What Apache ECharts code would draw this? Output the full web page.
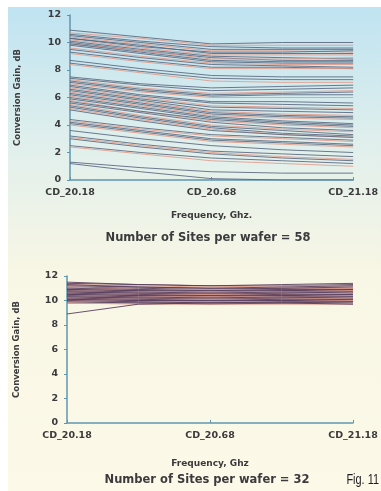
<!DOCTYPE html>
<html>
<head>
<meta charset="utf-8">
<script src="https://cdn.jsdelivr.net/npm/echarts@6/dist/echarts.min.js"></script>
<style>
  html, body { margin: 0; padding: 0; background: #ffffff; }
  #chart { width: 381px; height: 491px; }
</style>
</head>
<body>
<div id="chart"></div>
<script>
// Frequency points swept per site (GHz)
const frequencies = ['CD_20.18', 'CD_20.43', 'CD_20.68', 'CD_20.93', 'CD_21.18'];
const gainTicks = [0, 2, 4, 6, 8, 10, 12];

// Conversion gain (dB) per site, wafer with 58 sites
const wafer58Gain = [
  [10.9, 10.4, 9.9, 10.0, 10.0],
  [10.7, 10.3, 9.8, 9.8, 9.8],
  [10.6, 10.1, 9.7, 9.6, 9.6],
  [10.5, 10.0, 9.5, 9.5, 9.5],
  [10.4, 9.9, 9.4, 9.4, 9.3],
  [10.3, 9.7, 9.3, 9.3, 9.4],
  [10.3, 9.8, 9.2, 9.2, 9.2],
  [10.2, 9.6, 9.1, 9.1, 9.1],
  [10.1, 9.5, 9.0, 8.9, 8.8],
  [10.0, 9.4, 8.9, 8.7, 8.7],
  [9.9, 9.4, 8.8, 8.8, 8.9],
  [9.9, 9.3, 8.7, 8.6, 8.6],
  [9.8, 9.2, 8.6, 8.5, 8.5],
  [9.6, 9.0, 8.5, 8.4, 8.4],
  [9.5, 8.9, 8.4, 8.3, 8.2],
  [9.3, 8.7, 8.2, 8.2, 8.1],
  [9.2, 8.6, 8.1, 8.1, 8.1],
  [8.7, 8.1, 7.6, 7.5, 7.5],
  [8.5, 7.9, 7.4, 7.3, 7.3],
  [8.4, 7.8, 7.2, 7.1, 7.1],
  [7.5, 7.0, 6.7, 6.8, 6.9],
  [7.4, 6.9, 6.5, 6.6, 6.7],
  [7.3, 6.7, 6.3, 6.4, 6.5],
  [7.2, 6.6, 6.2, 6.3, 6.4],
  [7.1, 6.5, 6.1, 6.2, 6.2],
  [7.0, 6.4, 6.0, 6.0, 6.0],
  [6.9, 6.2, 5.7, 5.7, 5.6],
  [6.8, 6.1, 5.6, 5.5, 5.4],
  [6.7, 6.0, 5.4, 5.3, 5.2],
  [6.6, 5.9, 5.3, 5.2, 5.1],
  [6.5, 5.8, 5.1, 5.0, 4.9],
  [6.4, 5.7, 5.0, 4.8, 4.7],
  [6.3, 5.6, 4.9, 4.7, 4.6],
  [6.2, 5.5, 4.8, 4.6, 4.5],
  [6.1, 5.4, 4.7, 4.5, 4.4],
  [6.0, 5.3, 4.6, 4.3, 4.1],
  [5.9, 5.2, 4.5, 4.2, 4.0],
  [5.8, 5.0, 4.3, 4.0, 3.8],
  [5.7, 5.0, 4.4, 4.1, 3.9],
  [5.6, 4.9, 4.2, 3.8, 3.6],
  [5.5, 4.7, 4.0, 3.7, 3.5],
  [5.4, 4.6, 3.9, 3.6, 3.3],
  [5.3, 4.5, 3.8, 3.4, 3.2],
  [5.2, 4.4, 3.7, 3.3, 3.1],
  [5.1, 4.3, 3.6, 3.3, 3.1],
  [4.4, 3.8, 3.3, 3.1, 2.9],
  [4.3, 3.7, 3.2, 3.0, 2.8],
  [4.2, 3.6, 3.0, 2.8, 2.6],
  [4.1, 3.5, 2.9, 2.7, 2.5],
  [4.0, 3.4, 2.8, 2.6, 2.4],
  [3.6, 3.0, 2.5, 2.2, 2.0],
  [3.2, 2.6, 2.1, 1.9, 1.7],
  [3.1, 2.5, 2.0, 1.7, 1.5],
  [3.0, 2.4, 1.9, 1.6, 1.4],
  [2.5, 2.0, 1.6, 1.4, 1.2],
  [2.4, 1.9, 1.4, 1.2, 1.0],
  [1.3, 0.9, 0.6, 0.5, 0.5],
  [1.2, 0.6, 0.1, 0.0, 0.0]
];

// Conversion gain (dB) per site, wafer with 32 sites
const wafer32Gain = [
  [11.5, 11.3, 11.2, 11.3, 11.4],
  [11.4, 11.3, 11.2, 11.2, 11.3],
  [11.3, 11.2, 11.1, 11.2, 11.2],
  [11.3, 11.1, 11.0, 11.1, 11.2],
  [11.2, 11.1, 11.0, 11.0, 11.1],
  [11.1, 11.0, 10.9, 11.0, 11.0],
  [11.1, 10.9, 10.9, 10.9, 11.0],
  [11.0, 10.9, 10.8, 10.9, 10.9],
  [10.9, 10.8, 10.8, 10.8, 10.9],
  [10.9, 10.8, 10.7, 10.8, 10.8],
  [10.8, 10.7, 10.7, 10.7, 10.8],
  [10.8, 10.7, 10.6, 10.7, 10.7],
  [10.7, 10.6, 10.6, 10.6, 10.7],
  [10.7, 10.6, 10.5, 10.6, 10.6],
  [10.6, 10.5, 10.5, 10.5, 10.6],
  [10.6, 10.5, 10.4, 10.5, 10.5],
  [10.5, 10.4, 10.4, 10.4, 10.5],
  [10.5, 10.4, 10.3, 10.4, 10.4],
  [10.4, 10.3, 10.3, 10.3, 10.4],
  [10.4, 10.3, 10.2, 10.3, 10.3],
  [10.3, 10.2, 10.2, 10.2, 10.3],
  [10.3, 10.2, 10.1, 10.2, 10.2],
  [10.2, 10.1, 10.1, 10.1, 10.2],
  [10.2, 10.1, 10.0, 10.1, 10.1],
  [10.1, 10.0, 10.0, 10.0, 10.1],
  [10.1, 10.0, 9.9, 10.0, 10.0],
  [10.0, 9.9, 9.9, 9.9, 10.0],
  [10.0, 9.9, 9.8, 9.9, 9.9],
  [9.9, 9.8, 9.8, 9.8, 9.9],
  [9.8, 9.8, 9.7, 9.8, 9.8],
  [9.8, 9.7, 9.7, 9.7, 9.7],
  [8.9, 9.7, 9.8, 9.8, 9.7]
];

const sitesTop = wafer58Gain.length;
const sitesBottom = wafer32Gain.length;

const textColor = '#3b3a3c';
const axisColor = '#5f96b0';
const traceDark = '#56647c';
const traceWarm = '#e29a88';
const traceDeep = '#5a3e5e';
const labelFont = '"DejaVu Sans"';

const chart = echarts.init(document.getElementById('chart'), null, { renderer: 'canvas' });

function xAxisFor(gridIndex, name, nameGap) {
  return {
    type: 'category',
    gridIndex: gridIndex,
    data: frequencies,
    boundaryGap: false,
    name: name,
    nameLocation: 'middle',
    nameGap: nameGap,
    nameTextStyle: { color: textColor, fontSize: 9, fontWeight: 'bold', fontFamily: labelFont },
    axisLine: { lineStyle: { color: axisColor, width: 1.5 } },
    axisTick: { interval: 1, length: 3, inside: true, lineStyle: { color: axisColor } },
    axisLabel: {
      interval: 1,
      color: textColor, fontSize: 9.5, fontWeight: 'bold', fontFamily: labelFont,
      margin: 8, showMinLabel: true, showMaxLabel: true
    },
    splitLine: { show: false }
  };
}

function yAxisFor(gridIndex, nameGap) {
  return {
    type: 'value',
    gridIndex: gridIndex,
    min: gainTicks[0],
    max: gainTicks[gainTicks.length - 1],
    interval: 2,
    name: 'Conversion Gain, dB',
    nameLocation: 'middle',
    nameGap: nameGap,
    nameRotate: 90,
    nameTextStyle: { color: textColor, fontSize: 8.5, fontWeight: 'bold', fontFamily: labelFont },
    axisLine: { show: true, lineStyle: { color: axisColor, width: 1.5 } },
    axisTick: { show: true, length: 3, lineStyle: { color: axisColor } },
    axisLabel: { color: textColor, fontSize: 9.5, fontWeight: 'bold', fontFamily: labelFont, margin: 9 },
    splitLine: { show: false }
  };
}

const series = [];
wafer58Gain.forEach(function (vals, i) {
  series.push({
    name: 'Site ' + (i + 1),
    type: 'line',
    xAxisIndex: 0,
    yAxisIndex: 0,
    data: vals,
    symbol: 'none',
    silent: true,
    lineStyle: { width: 1, color: (i % 3 === 1) ? traceWarm : traceDark, opacity: 0.85 }
  });
});
wafer32Gain.forEach(function (vals, i) {
  series.push({
    name: 'Site ' + (i + 1),
    type: 'line',
    xAxisIndex: 1,
    yAxisIndex: 1,
    data: vals,
    symbol: 'none',
    silent: true,
    lineStyle: { width: 1, color: (i % 4 === 2) ? traceWarm : traceDeep, opacity: 0.9 }
  });
});

chart.setOption({
  animation: false,
  backgroundColor: '#ffffff',
  grid: [
    { left: 70, right: 23, top: 15, bottom: 311 },
    { left: 67, right: 28, top: 276, bottom: 68 }
  ],
  xAxis: [
    xAxisFor(0, 'Frequency, Ghz.', 31),
    xAxisFor(1, 'Frequency, Ghz', 36)
  ],
  yAxis: [
    yAxisFor(0, 48),
    yAxisFor(1, 46)
  ],
  series: series,
  graphic: [
    {
      type: 'rect',
      z: -10,
      silent: true,
      shape: { x: 8, y: 7, width: 373, height: 484 },
      style: {
        fill: new echarts.graphic.LinearGradient(0, 0, 0, 1, [
          { offset: 0, color: '#bfe3f1' },
          { offset: 0.3, color: '#e2f0ec' },
          { offset: 0.55, color: '#f8f6e4' },
          { offset: 1, color: '#fcf9e8' }
        ])
      }
    },
    {
      type: 'text',
      x: 208,
      y: 232,
      style: {
        text: 'Number of Sites per wafer = ' + sitesTop,
        fill: textColor, font: 'bold 11.5px "DejaVu Sans"',
        textAlign: 'center'
      }
    },
    {
      type: 'text',
      x: 207,
      y: 474,
      style: {
        text: 'Number of Sites per wafer = ' + sitesBottom,
        fill: textColor, font: 'bold 11.5px "DejaVu Sans"',
        textAlign: 'center'
      }
    },
    {
      // Narrow figure caption, squeezed horizontally from its right edge
      type: 'text',
      x: 379,
      y: 473,
      scaleX: 0.78,
      style: {
        text: 'Fig. 11',
        fill: '#1e1e22', font: '14px "Liberation Sans"',
        textAlign: 'right'
      }
    }
  ]
});
</script>
</body>
</html>
